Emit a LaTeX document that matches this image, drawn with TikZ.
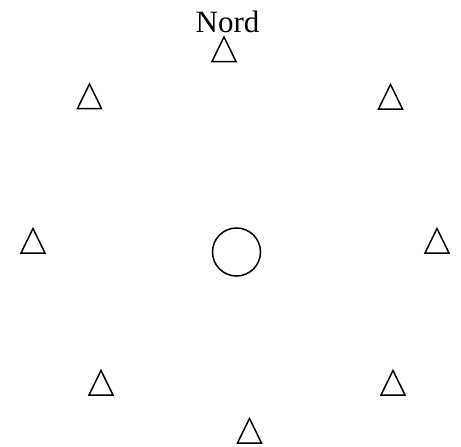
\documentclass[tikz,border=0pt]{standalone}
\usepackage{fontspec}
\setmainfont{Liberation Serif}
\begin{document}
\begin{tikzpicture}[x=1pt,y=-1pt,
  tri/.style={draw=black,line width=1.5pt,line join=miter},
  lbl/.style={font=\fontsize{31}{36}\selectfont,inner sep=0pt,anchor=base}]
\useasboundingbox (0,0) rectangle (461,447);
\node[lbl] (nord) at (227.5,32) {Nord};
\foreach \n/\cx/\cy in {t1/224/49.5, t2/89.5/96.5, t3/390.5/97, t4/33/241, t5/437/241, t6/101/383, t7/393/383, t8/249.5/431}{
  \draw[tri] (\cx,\cy-12.5) coordinate (\n) -- (\cx+12,\cy+12) -- (\cx-12,\cy+12) -- cycle;
}
\node[draw=black,line width=1.5pt,circle,minimum size=48pt,inner sep=0pt] (c) at (236.5,252) {};
\end{tikzpicture}
\end{document}
